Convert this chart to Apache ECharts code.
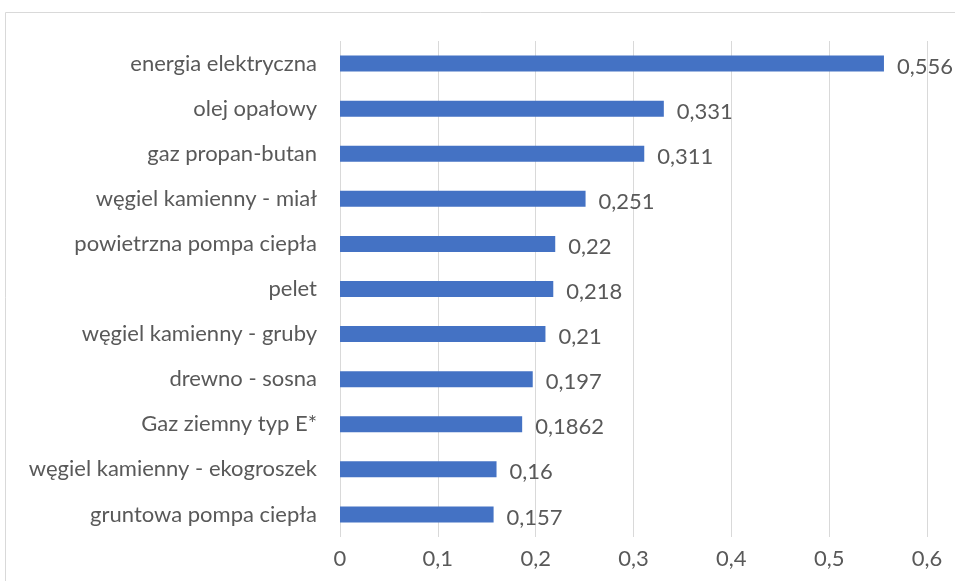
<!DOCTYPE html>
<html>
<head>
<meta charset="utf-8">
<script src="https://cdn.jsdelivr.net/npm/echarts@6/dist/echarts.min.js"></script>
<style>
  html, body { margin: 0; padding: 0; background: #fff; }
  #chart { width: 955px; height: 581px; }
</style>
</head>
<body>
<div id="chart"></div>
<script>
// Heating sources, listed top to bottom
const categories = [
  'energia elektryczna',
  'olej opałowy',
  'gaz propan-butan',
  'węgiel kamienny - miał',
  'powietrzna pompa ciepła',
  'pelet',
  'węgiel kamienny - gruby',
  'drewno - sosna',
  'Gaz ziemny typ E*',
  'węgiel kamienny - ekogroszek',
  'gruntowa pompa ciepła'
];
const values = [0.556, 0.331, 0.311, 0.251, 0.22, 0.218, 0.21, 0.197, 0.1862, 0.16, 0.157];
const xTicks = [0, 0.1, 0.2, 0.3, 0.4, 0.5, 0.6];

const fmt = v => String(+v.toFixed(4)).replace('.', ',');
const FONT = 'Lato, "Open Sans", sans-serif';
const TEXT = '#595959';

const chart = echarts.init(document.getElementById('chart'), null, { renderer: 'canvas' });
chart.setOption({
  animation: false,
  backgroundColor: '#fff',
  graphic: [{
    type: 'rect',
    shape: { x: 5.5, y: 12.5, width: 960, height: 600 },
    style: { fill: 'none', stroke: '#d9d9d9', lineWidth: 1 },
    silent: true,
    z: -1
  }],
  grid: { left: 340, right: 28, top: 41, bottom: 44, containLabel: false },
  xAxis: {
    type: 'value',
    min: xTicks[0],
    max: xTicks[xTicks.length - 1],
    interval: 0.1,
    axisLine: { show: false },
    axisTick: { show: false },
    splitLine: { show: true, lineStyle: { color: '#d9d9d9', width: 1 } },
    axisLabel: {
      margin: 11,
      color: TEXT,
      fontFamily: FONT,
      fontSize: 22,
      formatter: v => fmt(v)
    }
  },
  yAxis: {
    type: 'category',
    data: categories,
    inverse: true,
    axisLine: { show: false },
    axisTick: { show: false },
    splitLine: { show: false },
    axisLabel: {
      margin: 23,
      color: TEXT,
      fontFamily: FONT,
      fontSize: 22
    }
  },
  series: [{
    type: 'bar',
    data: values,
    barWidth: 16,
    itemStyle: { color: '#4472c4' },
    label: {
      show: true,
      position: 'right',
      distance: 13,
      offset: [0, 3],
      color: TEXT,
      fontFamily: FONT,
      fontSize: 22,
      formatter: p => fmt(p.value)
    }
  }]
});
</script>
</body>
</html>
